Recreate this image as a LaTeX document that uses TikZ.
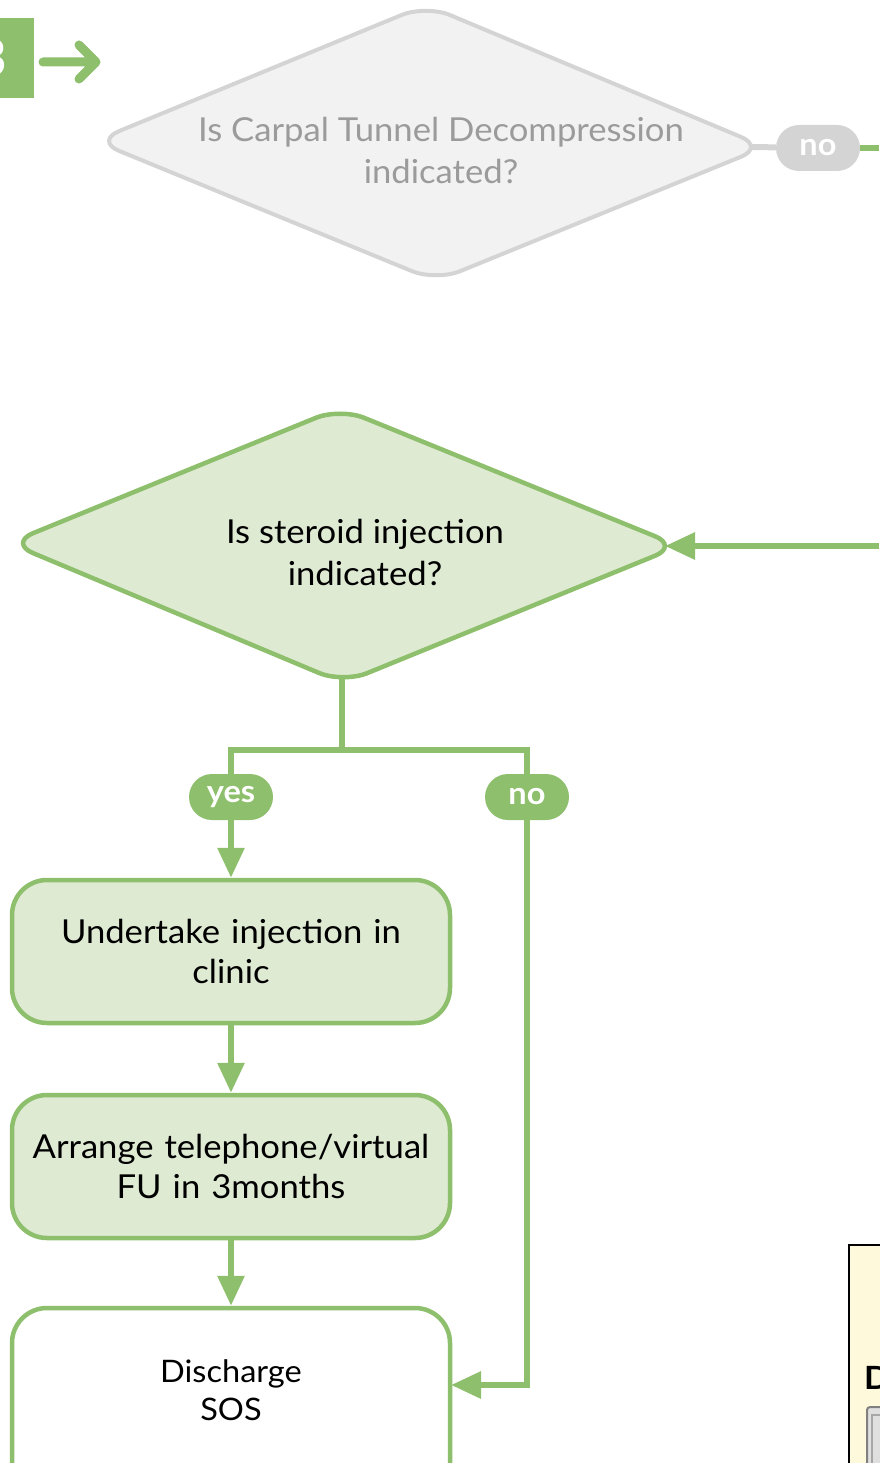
\documentclass[tikz,border=0pt]{standalone}
\usepackage{fontspec}
\setmainfont{Lato}[FakeStretch=1.05]
\usetikzlibrary{arrows.meta}
\definecolor{gr}{HTML}{8DBF6C}
\definecolor{lgr}{HTML}{DFEAD3}
\definecolor{gy}{HTML}{D4D4D4}
\definecolor{lgy}{HTML}{F2F2F2}
\definecolor{gyt}{HTML}{9B9B9B}
\definecolor{yel}{HTML}{FDF9DA}
\begin{document}
\begin{tikzpicture}[x=1pt,y=-1pt,
  conn/.style={draw=gr,line width=6pt},
  arr/.style={conn,-{Triangle[length=30pt,width=26pt]}},
  pill/.style={fill=gr,rounded corners=23pt,minimum width=84pt,minimum height=46pt,inner sep=0pt,text=white,font=\fontsize{31}{31}\selectfont\bfseries},
  boxa/.style={draw=gr,fill=lgr,line width=4.5pt,rounded corners=35pt,minimum width=438pt,minimum height=143pt,inner sep=0pt,text width=420pt,align=center,font=\fontsize{33}{40}\selectfont},
  dtext/.style={align=center,font=\fontsize{33}{42}\selectfont}
]
\useasboundingbox (0,0) rectangle (879,1463);

% top-left tab and arrow
\fill[gr] (-40,18) rectangle (34,98);
\node[text=white,font=\fontsize{52}{52}\selectfont\bfseries] (tab) at (-9,58) {3};
\coordinate (ta) at (43,62);
\coordinate (tb) at (96,62);
\coordinate (tc) at (79,45);
\coordinate (td) at (79,79);
\draw[gr,line width=9pt,line cap=round,line join=round] (ta) -- (tb) (tc) -- (tb) -- (td);

% grey diamond
\coordinate (d1l) at (95,141);
\coordinate (d1t) at (426,5);
\coordinate (d1r) at (765,147);
\coordinate (d1b) at (436,281);
\coordinate (d1o) at (751,147);
\draw[gy,fill=lgy,line width=4pt,rounded corners=26pt] (d1l) -- (d1t) -- (d1r) -- (d1b) -- cycle;
\node[dtext,text=gyt] (q1) at (441,150) {Is Carpal Tunnel Decompression\\indicated?};
\node[pill,fill=gy] (no1) at (818,148) {no};
\coordinate (rout) at (879,148);
\draw[gy,line width=6pt] (d1o) -- (no1);
\draw[conn] (no1) -- (rout);

% green diamond
\coordinate (d2l) at (9,543);
\coordinate (d2t) at (340,408);
\coordinate (d2r) at (679,546);
\coordinate (d2b) at (343,683);
\coordinate (d2o) at (342,676);
\coordinate (d2i) at (665,546);
\draw[gr,fill=lgr,line width=4.5pt,rounded corners=26pt] (d2l) -- (d2t) -- (d2r) -- (d2b) -- cycle;
\node[dtext] (q2) at (365,552) {Is steroid injection\\indicated?};
\coordinate (rin) at (879,546);
\draw[arr] (rin) -- (d2i);

% split
\coordinate (jm) at (342,750);
\coordinate (jl) at (231,750);
\coordinate (jr) at (527,750);
\node[pill] (yes) at (231,797) {yes};
\node[pill] (no2) at (527,797) {no};
\draw[conn,line join=miter] (d2o) -- (jm);
\draw[conn,line join=miter] (yes) -- (jl) -- (jr) -- (no2);

% boxes
\node[boxa] (b1) at (231,951.5) {Undertake injection in\\clinic};
\node[boxa] (b2) at (231,1166.5) {Arrange telephone/virtual\\FU in 3months};
\node[boxa,fill=white,minimum height=210pt] (b3) at (231,1413) {};
\node[font=\fontsize{31}{38}\selectfont,align=center] (t3) at (231,1390) {Discharge\\SOS};

\draw[arr] (yes) -- (b1);
\draw[arr] (b1) -- (b2);
\draw[arr] (b2) -- (b3);
\coordinate (b3in) at (451,1385);
\draw[arr,line join=miter] (no2) |- (b3in);

% cropped note at bottom right
\draw[black,fill=yel,line width=2pt] (849,1245) rectangle (930,1520);
\node[anchor=west,font=\fontsize{32}{32}\selectfont\bfseries,inner sep=0pt] (nd) at (864,1378) {D};
\draw[gray,fill=gray!25,line width=2pt,rounded corners=3pt] (867,1407) rectangle (895,1475);
\draw[gray!70,line width=1.5pt] (872,1415) rectangle (892,1475);
\end{tikzpicture}
\end{document}
